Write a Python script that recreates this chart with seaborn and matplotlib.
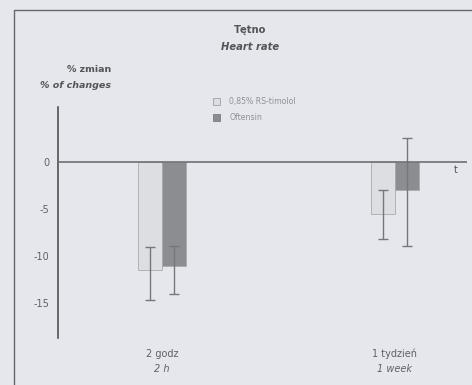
import matplotlib
matplotlib.use("Agg")
import matplotlib.pyplot as plt
import seaborn as sns
import pandas as pd
import numpy as np
from matplotlib.patches import Rectangle, Patch

# ---- data ----
cat_pl = ["2 godz", "1 tydzień"]
cat_en = ["2 h", "1 week"]
series = ["0,85% RS-timolol", "Oftensin"]
timolol_vals = [-11.5, -5.5]
oftensin_vals = [-11.0, -3.0]
timolol_err_low = [3.2, 2.7]
timolol_err_high = [2.5, 2.5]
oftensin_err_low = [3.0, 5.9]
oftensin_err_high = [2.1, 5.6]
yticks = [0, -5, -10, -15]

df = pd.DataFrame({
    "cat": cat_pl * 2,
    "series": [series[0]] * 2 + [series[1]] * 2,
    "value": timolol_vals + oftensin_vals,
})

bg = "#e5e7ed"
txt = "#555558"
colors = ["#dcdde2", "#8b8c91"]

sns.set_style("white")
plt.rcParams["font.family"] = ["DejaVu Sans"]

fig = plt.figure(figsize=(4.72, 3.85), dpi=100, facecolor=bg)
ax = fig.add_axes([58 / 472, 1 - 338 / 385, (467 - 58) / 472, (338 - 107) / 385])
ax.set_facecolor(bg)

sns.barplot(data=df, x="cat", y="value", hue="series", order=cat_pl,
            hue_order=series, palette=colors, width=0.206, gap=0,
            edgecolor=["#a9aaaf"], linewidth=0.6, errorbar=None, ax=ax,
            legend=False)

# error bars from bar positions
lows = [timolol_err_low, oftensin_err_low]
highs = [timolol_err_high, oftensin_err_high]
vals = [timolol_vals, oftensin_vals]
bars = [p for p in ax.patches if isinstance(p, Rectangle)]
for si in range(2):
    for ci in range(2):
        p = bars[si * 2 + ci]
        xc = p.get_x() + p.get_width() / 2
        ax.errorbar([xc], [vals[si][ci]],
                    yerr=[[lows[si][ci]], [highs[si][ci]]],
                    fmt="none", ecolor="#76777c", elinewidth=1.0,
                    capsize=3.5, capthick=1.0, zorder=3)

ax.set_xlim(-0.446, 1.31)
ax.set_ylim(-18.7, 5.85)
ax.axhline(0, color="#6e6f74", lw=1.2, zorder=4)

for s in ["top", "right", "bottom"]:
    ax.spines[s].set_visible(False)
ax.spines["left"].set_color("#444448")
ax.spines["left"].set_linewidth(1.1)

ax.set_yticks(yticks)
ax.set_yticklabels([str(v) for v in yticks], fontsize=7, color="#606065")
ax.tick_params(axis="y", direction="out", length=3, width=0.9, color="#555",
               pad=3)
ax.set_xticks([])
ax.set_xlabel("")
ax.set_ylabel("")

# x category labels
for i in range(2):
    ax.text(i, -20.4, cat_pl[i], ha="center", va="center", fontsize=7,
            color="#606065")
    ax.text(i, -22.0, cat_en[i], ha="center", va="center", fontsize=7,
            color="#606065", style="italic")

ax.text(1.26, -0.8, "t", fontsize=7, color=txt, ha="center", va="center")

# legend
handles = [Patch(facecolor=colors[0], edgecolor="#a0a1a6", lw=0.6),
           Patch(facecolor=colors[1], edgecolor="#7a7b80", lw=0.6)]
fig.legend(handles, series, loc="upper left",
           bbox_to_anchor=(206 / 472, 1 - 90 / 385), frameon=False,
           fontsize=5.6, labelcolor="#909196", handlelength=0.9,
           handleheight=0.9, handletextpad=1.2, labelspacing=0.95)

# titles
fig.text(250 / 472, 1 - 30 / 385, "Tętno", ha="center", va="center",
         fontsize=7.2, color=txt, weight="bold")
fig.text(250 / 472, 1 - 47 / 385, "Heart rate", ha="center", va="center",
         fontsize=7.2, color=txt, weight="bold", style="italic")
fig.text(111 / 472, 1 - 70 / 385, "% zmian", ha="right", va="center",
         fontsize=6.8, color=txt, weight="bold")
fig.text(111 / 472, 1 - 86 / 385, "% of changes", ha="right", va="center",
         fontsize=6.8, color=txt, weight="bold", style="italic")

# outer frame
fig.patches.append(Rectangle((14 / 472, -0.05), 1.1, 1 - 10 / 385 + 0.05,
                             transform=fig.transFigure, fill=False,
                             edgecolor="#66676c", lw=1.0))

fig.savefig("out.png", dpi=100, facecolor=bg)
